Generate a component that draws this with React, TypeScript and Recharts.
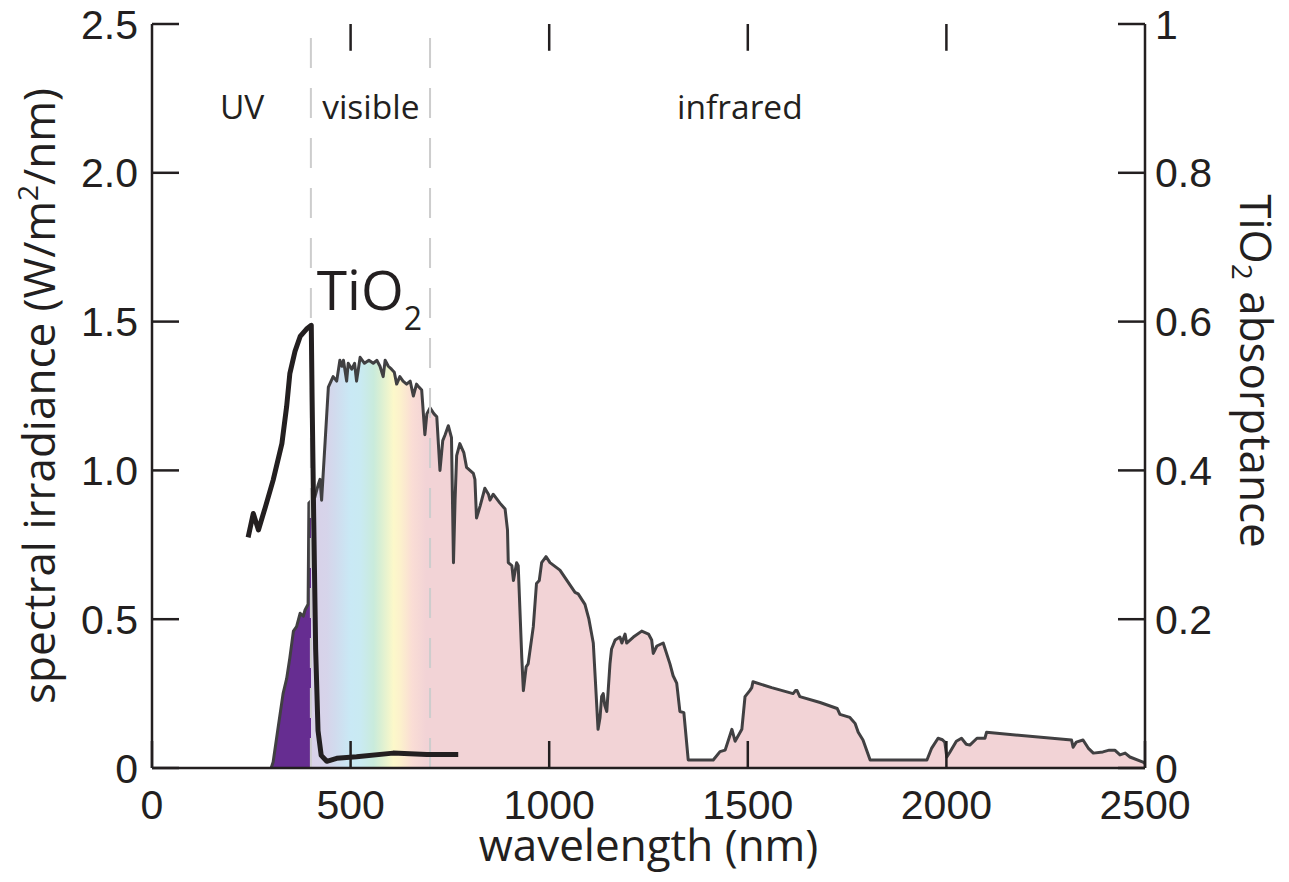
import React from 'react';
import { ComposedChart, Area, Line, XAxis, YAxis, ReferenceLine, ReferenceDot } from 'recharts';

// ---- data ----
const specWl = [300, 305, 318, 330, 339, 347, 356, 364, 373, 381, 385, 393, 395, 402, 410, 418, 423, 427, 436, 444, 456, 465, 473, 478, 482, 490, 494, 503, 510, 515, 524, 535, 546, 557, 566, 574, 582, 587, 595, 603, 610, 616, 624, 632, 641, 650, 658, 666, 672, 679, 687, 692, 700, 710, 717, 725, 732, 738, 746, 754, 759, 763, 767, 775, 785, 792, 809, 813, 817, 826, 838, 847, 851, 859, 876, 889, 895, 897, 906, 910, 918, 922, 931, 935, 942, 947, 960, 968, 975, 981, 992, 1002, 1027, 1065, 1073, 1090, 1100, 1111, 1116, 1123, 1128, 1132, 1136, 1140, 1145, 1153, 1157, 1166, 1178, 1183, 1191, 1195, 1212, 1233, 1250, 1258, 1262, 1271, 1287, 1304, 1312, 1321, 1329, 1339, 1350, 1413, 1430, 1443, 1460, 1468, 1485, 1493, 1505, 1510, 1513, 1560, 1614, 1620, 1624, 1631, 1682, 1725, 1732, 1757, 1770, 1778, 1790, 1808, 1951, 1963, 1979, 1990, 1996, 2001, 2009, 2025, 2038, 2050, 2059, 2077, 2097, 2101, 2315, 2319, 2327, 2344, 2357, 2370, 2394, 2410, 2424, 2437, 2450, 2462, 2495, 2500];
const specIrr = [0, 0.02, 0.14, 0.25, 0.30, 0.37, 0.46, 0.475, 0.52, 0.51, 0.53, 0.55, 0.89, 0.90, 0.91, 0.95, 0.97, 0.90, 1.10, 1.28, 1.315, 1.30, 1.37, 1.35, 1.37, 1.30, 1.36, 1.34, 1.36, 1.30, 1.38, 1.36, 1.37, 1.36, 1.37, 1.35, 1.315, 1.37, 1.35, 1.34, 1.33, 1.29, 1.315, 1.30, 1.29, 1.30, 1.25, 1.29, 1.28, 1.27, 1.12, 1.19, 1.21, 1.19, 1.18, 1.00, 1.10, 1.12, 1.15, 1.11, 0.69, 0.90, 1.05, 1.09, 1.06, 1.01, 0.99, 0.97, 0.84, 0.88, 0.94, 0.92, 0.90, 0.92, 0.89, 0.87, 0.80, 0.69, 0.68, 0.63, 0.69, 0.68, 0.37, 0.26, 0.34, 0.35, 0.475, 0.62, 0.63, 0.69, 0.71, 0.69, 0.665, 0.59, 0.585, 0.55, 0.50, 0.42, 0.30, 0.13, 0.17, 0.24, 0.25, 0.21, 0.19, 0.35, 0.40, 0.43, 0.44, 0.42, 0.45, 0.42, 0.44, 0.46, 0.45, 0.43, 0.385, 0.41, 0.42, 0.35, 0.31, 0.285, 0.19, 0.186, 0.027, 0.027, 0.055, 0.06, 0.13, 0.09, 0.13, 0.24, 0.26, 0.27, 0.29, 0.27, 0.25, 0.26, 0.26, 0.24, 0.22, 0.20, 0.18, 0.17, 0.15, 0.12, 0.094, 0.027, 0.027, 0.067, 0.10, 0.095, 0.087, 0.037, 0.054, 0.09, 0.10, 0.08, 0.077, 0.10, 0.10, 0.12, 0.094, 0.07, 0.087, 0.094, 0.067, 0.05, 0.054, 0.06, 0.06, 0.044, 0.05, 0.037, 0.02, 0.015];

const tioWl = [242, 255, 268, 285, 305, 327, 339, 347, 360, 373, 389, 401, 403, 407, 412, 418, 426, 440, 465, 515, 607, 692, 771];
const tioAbs = [0.31, 0.342, 0.32, 0.35, 0.387, 0.436, 0.486, 0.53, 0.56, 0.58, 0.59, 0.595, 0.50, 0.34, 0.16, 0.05, 0.017, 0.009, 0.013, 0.015, 0.02, 0.018, 0.018];

const xTicks = [0, 500, 1000, 1500, 2000, 2500];
const xTopTicks = [500, 1000, 1500, 2000];
const irrTicks = [0, 0.5, 1, 1.5, 2, 2.5];
const absTicks = [0, 0.2, 0.4, 0.6, 0.8, 1];
const regionBounds = [400, 700];
const regionNames = ['UV', 'visible', 'infrared'];
const regionLabelWl = [227, 551, 1480];
const regionLabelIrr = 2.18;
const tioLabelWl = 415;
const tioLabelIrr = 1.54;
const irrMax = 2.5;
const topTickDepth = 0.09; // inward tick length on the top frame, in irradiance units

// spectral colour stops (wavelength -> colour)
const stopWl = [300, 400, 401, 440, 465, 500, 525, 558, 575, 608, 625, 655, 690, 2500];
const stopColor = ['#662D91', '#662D91', '#D9D1E8', '#D6D4EA', '#D0DCEE', '#C9E9F5', '#C9EAF2', '#C9EBDC', '#D9EFD3', '#FCF8CA', '#FCF1CC', '#FADDD5', '#F2D3D6', '#F2D3D6'];

const specData = specWl.map((wl, i) => ({ wl, irr: specIrr[i] }));
const tioData = tioWl.map((wl, i) => ({ wl, abs: tioAbs[i] }));
const wlMin = Math.min(...specWl);
const wlMax = Math.max(...specWl);

const INK = '#231F20';
const TICK_FONT = "'Liberation Sans', Arial, sans-serif";
const TITLE_FONT = "'Open Sans', 'Noto Sans', sans-serif";
const tickStyle = { fill: INK, fontSize: 41, fontFamily: TICK_FONT };
const lineStyle = { stroke: INK, strokeWidth: 2.5 };

const fmtIrr = (v: number) => (v === 0 ? '0' : v.toFixed(1));
const fmtAbs = (v: number) => (v === 0 ? '0' : v === 1 ? '1' : v.toFixed(1));

export default function App() {
  return (
    <ComposedChart width={1273} height={866} margin={{ top: 16, right: 0, left: 0, bottom: 0 }}>
      <defs>
        <linearGradient id="specGrad" x1="0" y1="0" x2="1" y2="0">
          {stopWl.map((w, i) => (
            <stop key={i} offset={(w - wlMin) / (wlMax - wlMin)} stopColor={stopColor[i]} />
          ))}
        </linearGradient>
      </defs>
      <XAxis
        xAxisId="x"
        dataKey="wl"
        type="number"
        domain={[0, 2500]}
        ticks={xTicks}
        interval={0}
        height={106}
        tickSize={-27}
        tickMargin={49}
        tick={tickStyle}
        axisLine={lineStyle}
        tickLine={lineStyle}
        label={{
          content: (p: any) => {
            const vb = p.viewBox;
            return (
              <text x={vb.x + vb.width / 2} y={vb.y + 93} textAnchor="middle" fill={INK} fontSize={44} fontFamily={TITLE_FONT}>
                wavelength (nm)
              </text>
            );
          },
        }}
      />
      <XAxis
        xAxisId="top"
        dataKey="wl"
        type="number"
        orientation="top"
        domain={[0, 2500]}
        ticks={xTopTicks}
        height={0}
        tick={false}
        tickLine={false}
        axisLine={lineStyle}
      />
      <YAxis
        yAxisId="irr"
        type="number"
        domain={[0, irrMax]}
        ticks={irrTicks}
        interval={0}
        width={144}
        tickSize={-27}
        tickMargin={41}
        tickFormatter={fmtIrr}
        tick={tickStyle}
        axisLine={lineStyle}
        tickLine={lineStyle}
        label={{
          content: (p: any) => {
            const vb = p.viewBox;
            const cx = vb.x + 47;
            const cy = vb.y + vb.height / 2;
            return (
              <text transform={`translate(${cx},${cy}) rotate(-90)`} textAnchor="middle" fill={INK} fontSize={44} fontFamily={TITLE_FONT}>
                spectral irradiance (W/m<tspan fontSize={28} dy={-17}>2</tspan><tspan dy={17}>/nm)</tspan>
              </text>
            );
          },
        }}
      />
      <YAxis
        yAxisId="abs"
        orientation="right"
        type="number"
        domain={[0, 1]}
        ticks={absTicks}
        interval={0}
        width={136}
        tickSize={-27}
        tickMargin={37}
        tickFormatter={fmtAbs}
        tick={tickStyle}
        axisLine={lineStyle}
        tickLine={lineStyle}
        label={{
          content: (p: any) => {
            const vb = p.viewBox;
            const cx = vb.x + 95;
            const cy = vb.y + vb.height / 2 - 25;
            return (
              <text transform={`translate(${cx},${cy}) rotate(90)`} textAnchor="middle" fill={INK} fontSize={44} fontFamily={TITLE_FONT}>
                TiO<tspan fontSize={28} dy={8}>2</tspan><tspan dy={-8}> absorptance</tspan>
              </text>
            );
          },
        }}
      />
      <Area
        xAxisId="x"
        yAxisId="irr"
        data={specData}
        dataKey="irr"
        type="linear"
        fill="url(#specGrad)"
        fillOpacity={1}
        stroke="#414042"
        strokeWidth={3}
        strokeLinejoin="round"
        isAnimationActive={false}
        dot={false}
        activeDot={false}
      />
      {regionBounds.map((b) => (
        <ReferenceLine key={b} x={b} xAxisId="x" yAxisId="irr" stroke="#CDCDCD" strokeWidth={2} strokeDasharray="30 20" />
      ))}
      {xTopTicks.map((t) => (
        <ReferenceLine
          key={`top-${t}`}
          xAxisId="x"
          yAxisId="irr"
          segment={[{ x: t, y: irrMax }, { x: t, y: irrMax - topTickDepth }]}
          stroke={INK}
          strokeWidth={2.5}
        />
      ))}
      <Line
        xAxisId="x"
        yAxisId="abs"
        data={tioData}
        dataKey="abs"
        type="linear"
        stroke={INK}
        strokeWidth={5}
        strokeLinejoin="round"
        dot={false}
        activeDot={false}
        isAnimationActive={false}
      />
      {regionNames.map((name, i) => (
        <ReferenceDot
          key={name}
          xAxisId="x"
          yAxisId="irr"
          x={regionLabelWl[i]}
          y={regionLabelIrr}
          r={0}
          shape={(p: any) => (
            <text x={p.cx} y={p.cy} textAnchor="middle" fill={INK} fontSize={33.5} fontFamily={TITLE_FONT}>
              {name}
            </text>
          )}
        />
      ))}
      <ReferenceDot
        xAxisId="x"
        yAxisId="irr"
        x={tioLabelWl}
        y={tioLabelIrr}
        r={0}
        shape={(p: any) => (
          <text x={p.cx} y={p.cy} textAnchor="start" fill={INK} fontSize={55} fontFamily={TITLE_FONT}>
            TiO<tspan fontSize={32} dy={20}>2</tspan>
          </text>
        )}
      />
    </ComposedChart>
  );
}
